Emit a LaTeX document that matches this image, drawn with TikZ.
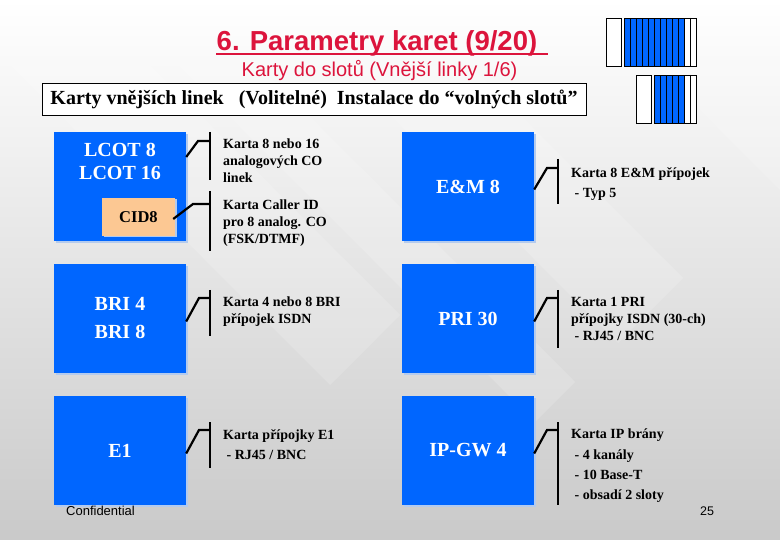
\documentclass[tikz,border=0pt]{standalone}
\usepackage{fontspec}
\setmainfont{Liberation Serif}
\newfontfamily\arialfont{Liberation Sans}
\usepackage{xcolor}
\usetikzlibrary{
  positioning,
  calc
}
\definecolor{cardblue}{HTML}{0066FF}
\definecolor{cardshade}{HTML}{B4CBEE}
\definecolor{cidfill}{HTML}{FCC893}
\definecolor{titlered}{HTML}{DC143C}

\begin{document}
\begin{tikzpicture}[
  x=1pt,
  y=-1pt,
  card/.style={
    fill=cardblue,
    text=white,
    minimum width=132pt,
    minimum height=109pt,
    inner sep=0pt,
    align=center,
    font=\fontsize{20}{26}\selectfont\bfseries
  },
  cardshadow/.style={
    fill=cardshade,
    minimum width=132pt,
    minimum height=109pt,
    inner sep=0pt
  },
  note/.style={
    anchor=north west,
    align=left,
    inner sep=0pt,
    font=\fontsize{14}{17}\selectfont\bfseries
  },
  widenote/.style={
    note,
    font=\fontsize{14}{20.3}\selectfont\bfseries
  },
  wire/.style={
    line width=2.2pt
  },
  slot/.style={
    draw=black,
    line width=0.9pt
  },
  band/.style={
    fill=white,
    opacity=0.16
  }
]

\useasboundingbox (0,0) rectangle (780,540);

% Background
\shade[top color=white, bottom color=black!21] (0,0) rectangle (780,540);
\fill[band] (405,0) -- (683,278) -- (618,343) -- (275,0) -- cycle;
\fill[band] (193,0) -- (575,382) -- (535,422) -- (113,0) -- cycle;
\fill[band] (85,0) -- (400,315) -- (330,385) -- (0,55) -- (0,0) -- cycle;
\fill[band] (780,60) -- (780,190) -- (590,0) -- (720,0) -- cycle;

% Title
\node[font=\arialfont\fontsize{27.5}{32}\selectfont\bfseries, text=titlered, inner sep=0pt, anchor=base] (title) at (377,51) {6. Parametry karet (9/20)};
\draw[titlered, line width=1.6pt] (216,54) -- (548,54);
\node[font=\arialfont\fontsize{20}{24}\selectfont, text=titlered, inner sep=0pt, anchor=base] (subtitle) at (379.5,77) {Karty do slotů (Vnější linky 1/6)};
\node[draw=black, fill=white, line width=0.8pt, minimum width=544pt, minimum height=32pt, inner sep=0pt,
  font=\fontsize{20}{24}\selectfont\bfseries] (header) at (314,99)
  {Karty vnějších linek\ \ \ (Volitelné)\ \ Instalace do “volných slotů”};

% Slot pictures
\draw[slot, fill=white] (606,18) rectangle (621,66);
\draw[slot, fill=white] (684,18) rectangle (696,66);
\draw[slot] (690,18) -- (690,66);
\foreach \i in {0,...,9} {
  \draw[slot, fill=cardblue] ({624+6*\i},18) rectangle ({630+6*\i},66);
}
\draw[slot, fill=white] (636,75) rectangle (651,123);
\draw[slot, fill=white] (684,75) rectangle (696,123);
\draw[slot] (690,75) -- (690,123);
\foreach \i in {0,...,4} {
  \draw[slot, fill=cardblue] ({654+6*\i},75) rectangle ({660+6*\i},123);
}

% Cards
\foreach \x/\y in {120/186.5, 468/186.5, 120/318.5, 468/318.5, 120/450.5, 468/450.5} {
  \node[cardshadow] at (\x+2,\y+2) {};
}
\node[card] (lcot) at (120,186.5) {};
\node[card] (em) at (468,186.5) {\raisebox{-1.5pt}{E\&M 8}};
\node[card] (bri) at (120,318.5) {BRI 4\\[2pt]BRI 8};
\node[card] (pri) at (468,318.5) {PRI 30};
\node[card] (e1) at (120,450.5) {E1};
\node[card] (gw) at (468,450.5) {IP-GW 4};
\node[text=white, font=\fontsize{20}{23.5}\selectfont\bfseries, align=center, inner sep=0pt] (lcotlabel) at (120,161.5) {LCOT 8\\LCOT 16};
\node[fill=cardshade, minimum width=73pt, minimum height=38pt, inner sep=0pt] at (140,218) {};
\node[fill=cidfill, minimum width=73pt, minimum height=38pt, inner sep=0pt, font=\fontsize{16.5}{20}\selectfont\bfseries] (cid) at (138.5,217) {CID8};

% Connectors
\coordinate (lcotbend) at (198,141);
\coordinate (lcotpin) at (210,141);
\coordinate (cidbend) at (193,204);
\coordinate (cidpin) at (210,204);
\coordinate (embend) at (547,168);
\coordinate (empin) at (558,168);
\coordinate (bribend) at (199,298);
\coordinate (bripin) at (210,298);
\coordinate (pribend) at (547,298);
\coordinate (pripin) at (558,298);
\coordinate (e1bend) at (199,430);
\coordinate (e1pin) at (210,430);
\coordinate (gwbend) at (547,430);
\coordinate (gwpin) at (558,430);

\draw[wire] (lcot.east |- 0,157) -- (lcotbend) -- (lcotpin);
\draw[wire] (cid.east) ++(-2,2) -- (cidbend) -- (cidpin);
\draw[wire] (em.east) ++(0,3) -- (embend) -- (empin);
\draw[wire] (bri.east) ++(0,3) -- (bribend) -- (bripin);
\draw[wire] (pri.east) ++(0,3) -- (pribend) -- (pripin);
\draw[wire] (e1.east) ++(0,3) -- (e1bend) -- (e1pin);
\draw[wire] (gw.east) ++(0,3) -- (gwbend) -- (gwpin);

\draw[wire] (lcotpin |- 0,132) -- (lcotpin |- 0,180);
\draw[wire] (cidpin |- 0,191) -- (cidpin |- 0,251);
\draw[wire] (empin |- 0,159) -- (empin |- 0,204);
\draw[wire] (bripin |- 0,290) -- (bripin |- 0,336);
\draw[wire] (pripin |- 0,290) -- (pripin |- 0,348);
\draw[wire] (e1pin |- 0,422) -- (e1pin |- 0,468);
\draw[wire] (gwpin |- 0,422) -- (gwpin |- 0,505);

% Notes
\node[note] (lcotnote) at (223,139) {Karta 8 nebo 16\\analogových CO\\linek};
\node[note] (cidnote) at (223,200) {Karta Caller ID\\pro 8 analog. CO\\(FSK/DTMF)};
\node[widenote] (emnote) at (571,167) {Karta 8 E\&M přípojek\\\ - Typ 5};
\node[note] (brinote) at (223,297) {Karta 4 nebo 8 BRI\\přípojek ISDN};
\node[note] (prinote) at (571,297) {Karta 1 PRI\\přípojky ISDN (30-ch)\\\ - RJ45 / BNC};
\node[widenote] (e1note) at (223,429) {Karta přípojky E1\\\ - RJ45 / BNC};
\node[widenote] (gwnote) at (571,429) {Karta IP brány\\\ - 4 kanály\\\ - 10 Base-T\\\ - obsadí 2 sloty};

% Footer
\node[font=\arialfont\fontsize{13}{15}\selectfont, inner sep=0pt] (confidential) at (100.5,511) {Confidential};
\node[font=\arialfont\fontsize{12.5}{14}\selectfont, inner sep=0pt] (pagenum) at (707,511) {25};

\end{tikzpicture}
\end{document}
